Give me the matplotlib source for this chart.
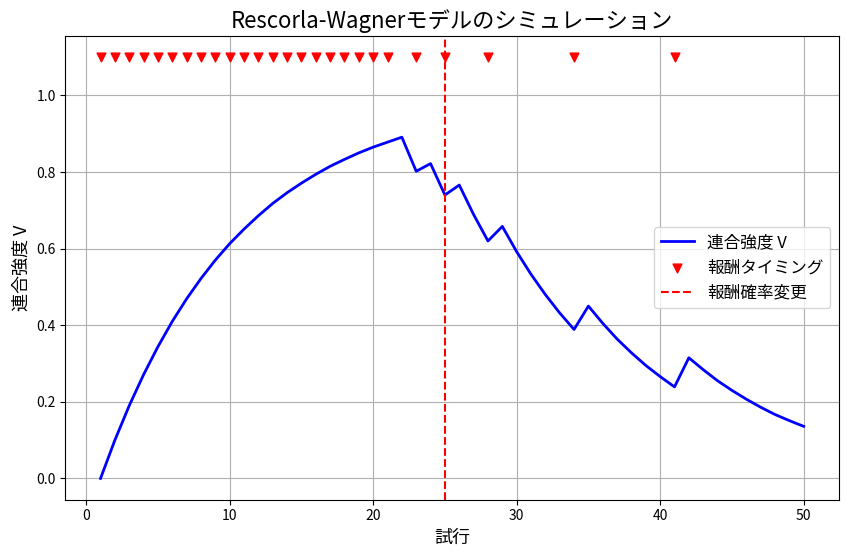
import matplotlib
matplotlib.use("Agg")
import matplotlib.pyplot as plt

plt.rcParams['font.family'] = ['Noto Sans CJK JP', 'DejaVu Sans']

# 試行番号と連合強度 V
trials = list(range(1, 51))
V = [0.000, 0.100, 0.190, 0.271, 0.344, 0.410, 0.469, 0.522, 0.570, 0.613,
     0.651, 0.686, 0.718, 0.746, 0.771, 0.794, 0.815, 0.833, 0.850, 0.865,
     0.878, 0.891, 0.802, 0.822, 0.740, 0.766, 0.689, 0.620, 0.658, 0.592,
     0.533, 0.480, 0.432, 0.389, 0.450, 0.405, 0.364, 0.328, 0.295, 0.266,
     0.239, 0.315, 0.284, 0.255, 0.230, 0.207, 0.186, 0.167, 0.151, 0.136]

# 報酬が与えられた試行
reward_trials = list(range(1, 22)) + [23, 25, 28, 34, 41]
change_trial = 25

fig, ax = plt.subplots(figsize=(8.49, 5.55), dpi=100)
ax.plot(trials, V, color='blue', linewidth=2, label='連合強度 V')
ax.scatter(reward_trials, [1.1] * len(reward_trials), marker='v', color='red',
           s=40, label='報酬タイミング', zorder=3)
ax.axvline(change_trial, color='red', linestyle='--', linewidth=1.5, label='報酬確率変更')

ax.set_title('Rescorla-Wagnerモデルのシミュレーション', fontsize=16)
ax.set_xlabel('試行', fontsize=13)
ax.set_ylabel('連合強度 V', fontsize=13)
ax.grid(True)
ax.legend(loc='center right', fontsize=12)

fig.subplots_adjust(left=0.077, right=0.988, top=0.935, bottom=0.1)
fig.savefig('out.png')
